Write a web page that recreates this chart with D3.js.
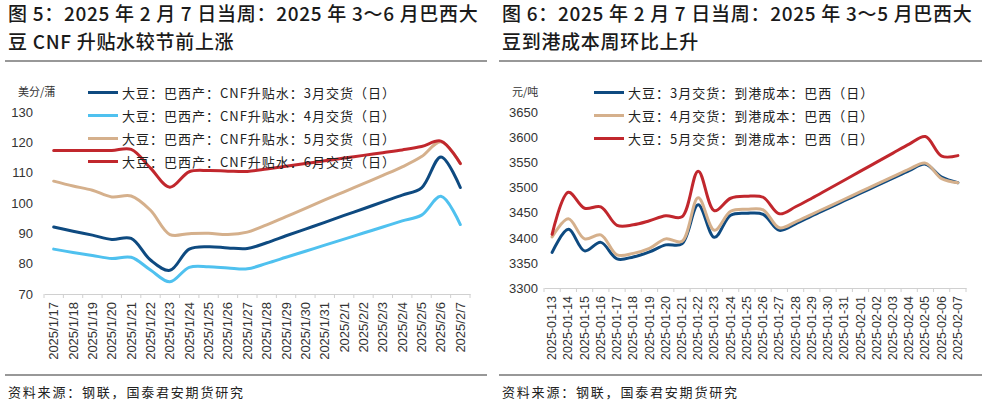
<!DOCTYPE html>
<html><head><meta charset="utf-8">
<script src="https://cdn.jsdelivr.net/npm/d3@7"></script>
<style>
html,body{margin:0;padding:0;background:#fff;}
svg{display:block;}
</style></head>
<body><svg id="c" width="987" height="415"></svg>
<script>
// ---------- data: left chart (CNF premium, US cents/bushel) ----------
const leftDates = ["2025/1/17","2025/1/18","2025/1/19","2025/1/20","2025/1/21","2025/1/22","2025/1/23","2025/1/24","2025/1/25","2025/1/26","2025/1/27","2025/1/28","2025/1/29","2025/1/30","2025/1/31","2025/2/1","2025/2/2","2025/2/3","2025/2/4","2025/2/5","2025/2/6","2025/2/7"];
const cnfMar = [92.1,90.7,89.4,88.0,88.3,81.2,77.8,84.8,85.6,85.2,85.0,86.9,89.2,91.4,93.6,95.9,98.1,100.4,102.6,105.0,115.2,105.1];
const cnfApr = [84.8,83.7,82.7,81.7,82.1,77.9,74.0,78.8,79.0,78.6,78.3,80.1,82.1,84.1,86.1,88.1,90.1,92.1,94.1,96.0,102.2,92.9];
const cnfMay = [107.2,105.6,104.2,102.0,102.3,97.6,89.6,89.9,90.0,89.6,90.4,92.8,95.5,98.2,101.0,103.7,106.4,109.1,111.9,115.3,120.2,113.0];
const cnfJun = [117.3,117.3,117.3,117.3,117.7,111.5,105.2,110.3,110.7,110.5,110.4,111.2,112.1,113.0,113.9,114.8,115.7,116.6,117.5,118.6,120.4,113.0];
const leftYTicks = [70,80,90,100,110,120,130];
const leftNames = ["大豆：巴西产：CNF升贴水：3月交货（日）","大豆：巴西产：CNF升贴水：4月交货（日）","大豆：巴西产：CNF升贴水：5月交货（日）","大豆：巴西产：CNF升贴水：6月交货（日）"];

// ---------- data: right chart (landed cost, yuan/ton) ----------
const rightDates = ["2025-01-13","2025-01-14","2025-01-15","2025-01-16","2025-01-17","2025-01-18","2025-01-19","2025-01-20","2025-01-21","2025-01-22","2025-01-23","2025-01-24","2025-01-25","2025-01-26","2025-01-27","2025-01-28","2025-01-29","2025-01-30","2025-01-31","2025-02-01","2025-02-02","2025-02-03","2025-02-04","2025-02-05","2025-02-06","2025-02-07"];
const costMar = [3371,3417,3374,3391,3358,3362,3372,3386,3388,3466,3401,3445,3449,3447,3415,3428,3444,3459,3474,3489,3504,3519,3534,3547,3521,3510];
const costApr = [3402,3438,3398,3406,3366,3369,3379,3398,3393,3480,3415,3453,3457,3456,3420,3432,3447,3462,3477,3492,3507,3522,3537,3549,3518,3510];
const costMay = [3407,3491,3459,3462,3425,3426,3434,3444,3442,3533,3454,3479,3483,3481,3448,3462,3479,3497,3515,3533,3551,3569,3587,3602,3563,3564];
const rightYTicks = [3300,3350,3400,3450,3500,3550,3600,3650];
const rightNames = ["大豆：3月交货：到港成本：巴西（日）","大豆：4月交货：到港成本：巴西（日）","大豆：5月交货：到港成本：巴西（日）"];

const CJK = "'Noto Sans CJK SC','Noto Sans',sans-serif";
const LAT = "'Liberation Sans',Arial,sans-serif";
const svg = d3.select("#c");

function panel(o){
  const g = svg.append("g");
  // title
  o.title.forEach((t,i)=>{
    g.append("text").attr("x",o.left+3).attr("y",21+i*28)
     .attr("font-family",CJK).attr("font-size",19).attr("font-weight",500)
     .attr("letter-spacing",0.7)
     .attr("fill","#1a1a1a").text(t);
  });
  g.append("line").attr("x1",o.left).attr("x2",o.left+o.w).attr("y1",61).attr("y2",61)
   .attr("stroke","#333").attr("stroke-width",1.2);
  g.append("line").attr("x1",o.left).attr("x2",o.left+o.w).attr("y1",375).attr("y2",375)
   .attr("stroke","#333").attr("stroke-width",1.2);
  g.append("text").attr("x",o.left+3).attr("y",397)
   .attr("font-family",CJK).attr("font-size",13).attr("letter-spacing",1.8)
   .attr("fill","#222").text("资料来源：钢联，国泰君安期货研究");

  const x = d3.scaleBand().domain(o.dates).range([o.x0,o.x1]).padding(0);
  const y = d3.scaleLinear().domain([o.yTicks[0],o.yTicks[o.yTicks.length-1]]).range([o.yb,o.yt]);
  const bw = x.bandwidth();

  // unit
  g.append("text").attr("x",o.unitX).attr("y",96).attr("font-family",CJK).attr("font-size",11)
   .attr("fill","#333").text(o.unit);

  // y axis
  const ya = g.append("g").attr("transform",`translate(${o.yLabX},0)`)
    .call(d3.axisLeft(y).tickValues(o.yTicks).tickFormat(d3.format("d")).tickSize(0).tickPadding(0));
  ya.select(".domain").remove();
  ya.selectAll("text").attr("font-family",LAT).attr("font-size",13).attr("fill","#333");

  // x axis
  const xa = g.append("g").attr("transform",`translate(0,${o.yb})`)
    .call(d3.axisBottom(x).tickSize(0).tickPadding(0));
  xa.select(".domain").attr("stroke","#d0d0d0");
  xa.selectAll("text").attr("font-family",LAT).attr("font-size",o.xFont).attr("fill","#333")
    .attr("text-anchor","end").attr("dy",null).attr("dominant-baseline","central")
    .attr("transform","translate(0,8) rotate(-90)");
  // tick marks at band boundaries
  const bounds = o.dates.map(d=>x(d)).concat([x(o.dates[o.dates.length-1])+bw]);
  g.append("g").selectAll("line").data(bounds).join("line")
    .attr("x1",d=>d).attr("x2",d=>d).attr("y1",o.yb).attr("y2",o.yb+4)
    .attr("stroke","#d0d0d0");

  // lines
  const line = d3.line().x((d,i)=>x(o.dates[i])+bw/2).y(d=>y(d)).curve(d3.curveCatmullRom.alpha(0.5));
  o.series.forEach(s=>{
    g.append("path").attr("d",line(s.v)).attr("fill","none").attr("stroke",s.c)
     .attr("stroke-width",3).attr("stroke-linejoin","round").attr("stroke-linecap","round");
  });

  // legend
  o.series.forEach((s,i)=>{
    const ly = 92.5 + i*23;
    g.append("line").attr("x1",o.lx).attr("x2",o.lx+30).attr("y1",ly).attr("y2",ly)
     .attr("stroke",s.c).attr("stroke-width",3);
    g.append("text").attr("x",o.lx+34).attr("y",ly).attr("dominant-baseline","central")
     .attr("font-family",CJK).attr("font-size",13).attr("letter-spacing",1)
     .attr("fill","#222").text(o.names[i]);
  });
}

panel({
  left:5, w:482,
  title:["图 5：2025 年 2 月 7 日当周：2025 年 3～6 月巴西大","豆 CNF 升贴水较节前上涨"],
  dates:leftDates, x0:44, x1:470, yt:112, yb:294, yTicks:leftYTicks, yLabX:33, xFont:13,
  unit:"美分/蒲", unitX:18, lx:88, names:leftNames,
  series:[{v:cnfMar,c:"#0e4a80"},{v:cnfApr,c:"#4fc1ef"},{v:cnfMay,c:"#d5b08c"},{v:cnfJun,c:"#c1272d"}]
});
panel({
  left:499, w:483,
  title:["图 6：2025 年 2 月 7 日当周：2025 年 3～5 月巴西大","豆到港成本周环比上升"],
  dates:rightDates, x0:544, x1:966, yt:112.5, yb:288, yTicks:rightYTicks, yLabX:538, xFont:12.5,
  unit:"元/吨", unitX:512, lx:594, names:rightNames,
  series:[{v:costMar,c:"#0e4a80"},{v:costApr,c:"#d5b08c"},{v:costMay,c:"#c1272d"}]
});
</script></body></html>
